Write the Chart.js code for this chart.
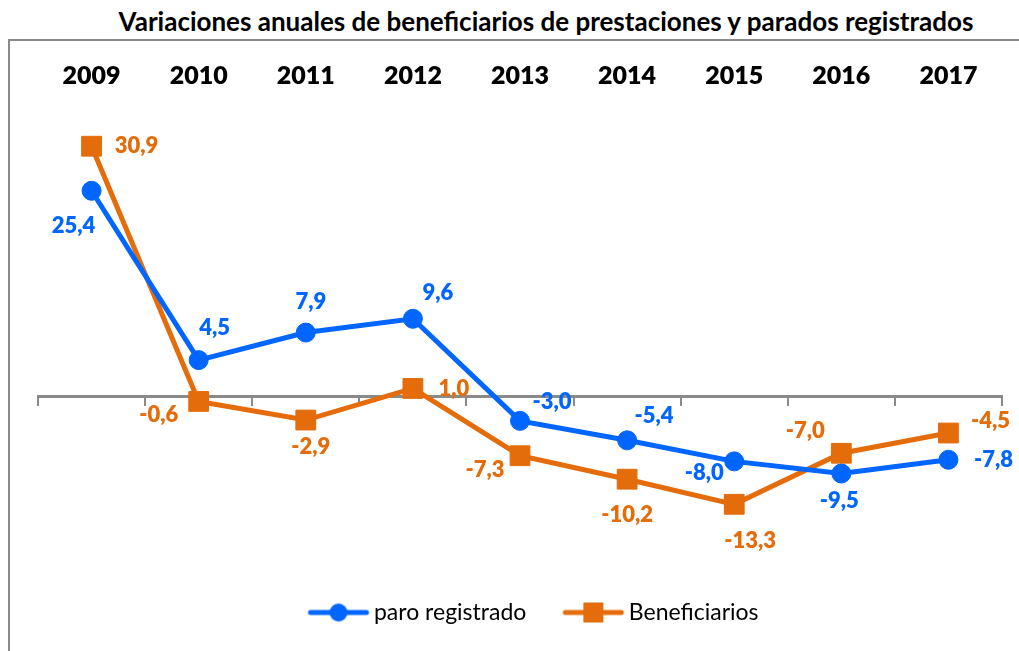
<!DOCTYPE html>
<html>
<head>
<meta charset="utf-8">
<script src="https://cdn.jsdelivr.net/npm/chart.js@4"></script>
<style>
  html, body { margin: 0; padding: 0; background: #fff; overflow: hidden; }
  #frame { position: absolute; left: 8px; top: 39px; width: 1100px; height: 700px;
           border-left: 2px solid #8a8a8a; border-top: 2px solid #8a8a8a; }
  #title { position: absolute; left: 0; top: 8px; width: 1092px; text-align: center;
           font: bold 26px Lato, sans-serif; line-height: 26px; color: #000; }
  #wrap { position: absolute; left: 0; top: 0; width: 1019px; height: 651px; }
</style>
</head>
<body>
<div id="frame"></div>
<div id="title">Variaciones anuales de beneficiarios de prestaciones y parados registrados</div>
<div id="wrap"><canvas id="chart" width="1019" height="651"></canvas></div>
<script>
// data
const years = ['2009', '2010', '2011', '2012', '2013', '2014', '2015', '2016', '2017'];
const paroRegistrado = [25.4, 4.5, 7.9, 9.6, -3.0, -5.4, -8.0, -9.5, -7.8];
const beneficiarios = [30.9, -0.6, -2.9, 1.0, -7.3, -10.2, -13.3, -7.0, -4.5];

// where each value label sits relative to its point
const paroLabelOffsets = [[-18, 35], [16, -32], [5, -31], [25, -26], [32, -19], [27, -24], [-30, 12], [-2, 27], [45, 0]];
const benefLabelOffsets = [[45, 0], [-40, 13], [5, 27], [41, 0], [-35, 14], [0, 36], [16, 37], [-36, -22], [42, -12]];

const BLUE = '#0066FF';
const ORANGE = '#E46C0A';
const FONT = 'Lato, sans-serif';

// legend symbol: line with marker in the middle
function legendSymbol(color, shape) {
    const c = document.createElement('canvas');
    c.width = 109;
    c.height = 24;
    const g = c.getContext('2d');
    g.strokeStyle = color;
    g.fillStyle = color;
    g.lineWidth = 5;
    g.lineCap = 'round';
    g.beginPath();
    g.moveTo(43, 12);
    g.lineTo(99, 12);
    g.stroke();
    if (shape === 'circle') {
        g.beginPath();
        g.arc(71, 12, 9, 0, Math.PI * 2);
        g.fill();
    } else {
        g.fillRect(61, 2, 20, 20);
    }
    return c;
}
const legendIcons = [legendSymbol(BLUE, 'circle'), legendSymbol(ORANGE, 'rect')];

const valueLabels = {
    id: 'valueLabels',
    afterDatasetsDraw(chart) {
        const ctx = chart.ctx;
        const offsets = [paroLabelOffsets, benefLabelOffsets];
        ctx.save();
        ctx.font = '800 22px ' + FONT;
        ctx.textAlign = 'center';
        ctx.textBaseline = 'middle';
        chart.data.datasets.forEach((ds, d) => {
            const meta = chart.getDatasetMeta(d);
            ctx.fillStyle = ds.borderColor;
            meta.data.forEach((pt, i) => {
                const txt = ds.data[i].toFixed(1).replace('.', ',');
                ctx.fillText(txt, pt.x + offsets[d][i][0], pt.y + offsets[d][i][1]);
            });
        });
        ctx.restore();
    }
};

new Chart(document.getElementById('chart'), {
    type: 'line',
    data: {
        labels: years,
        datasets: [{
            label: 'paro registrado',
            data: paroRegistrado,
            borderColor: BLUE,
            backgroundColor: BLUE,
            borderWidth: 5,
            pointStyle: 'circle',
            pointRadius: 9.5,
            pointBorderWidth: 1,
            tension: 0
        }, {
            label: 'Beneficiarios',
            data: beneficiarios,
            borderColor: ORANGE,
            backgroundColor: ORANGE,
            borderWidth: 5,
            pointStyle: 'rect',
            pointRadius: 14,
            pointBorderWidth: 1,
            tension: 0
        }]
    },
    options: {
        responsive: false,
        animation: false,
        layout: {
            padding: { left: 38, right: 17, top: 0, bottom: 17 }
        },
        scales: {
            x: {
                position: 'top',
                offset: true,
                grid: { display: false, drawTicks: false },
                border: { display: false },
                ticks: {
                    color: '#000',
                    padding: 22,
                    font: { family: FONT, size: 25, weight: '800' }
                },
                afterFit: (scale) => { scale.height = 113; }
            },
            x2: {
                type: 'category',
                position: { y: 0 },
                offset: true,
                grid: {
                    offset: true,
                    drawOnChartArea: false,
                    color: '#8a8a8a',
                    lineWidth: 2,
                    tickLength: 8
                },
                border: { color: '#8a8a8a', width: 3 },
                ticks: { display: false }
            },
            y: {
                display: false,
                min: -24,
                max: 35
            }
        },
        plugins: {
            title: { display: false },
            tooltip: { enabled: false },
            legend: {
                position: 'bottom',
                labels: {
                    usePointStyle: true,
                    pointStyleWidth: 81,
                    padding: 10,
                    color: '#000',
                    font: { family: FONT, size: 23 },
                    generateLabels: (chart) => {
                        const items = Chart.defaults.plugins.legend.labels.generateLabels(chart);
                        items.forEach((it, i) => { it.pointStyle = legendIcons[i]; });
                        return items;
                    }
                }
            }
        }
    },
    plugins: [valueLabels]
});
</script>
</body>
</html>
